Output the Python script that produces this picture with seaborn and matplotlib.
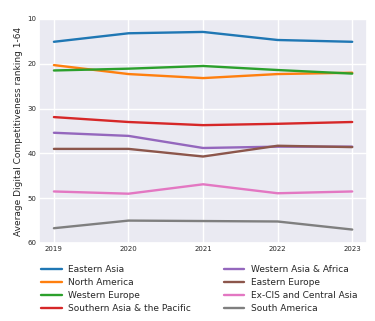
import matplotlib
matplotlib.use("Agg")
import matplotlib.pyplot as plt
import seaborn as sns
import pandas as pd

years = [2019, 2020, 2021, 2022, 2023]
regions = ["Eastern Asia", "North America", "Western Europe", "Southern Asia & the Pacific",
           "Western Asia & Africa", "Eastern Europe", "Ex-CIS and Central Asia", "South America"]
eastern_asia = [15.1, 13.2, 12.9, 14.7, 15.1]
north_america = [20.3, 22.3, 23.2, 22.3, 22.0]
western_europe = [21.5, 21.1, 20.5, 21.4, 22.2]
southern_asia_pacific = [31.9, 33.0, 33.7, 33.4, 33.0]
western_asia_africa = [35.4, 36.1, 38.8, 38.5, 38.5]
eastern_europe = [39.0, 39.0, 40.7, 38.3, 38.6]
ex_cis_central_asia = [48.5, 49.0, 46.9, 48.9, 48.5]
south_america = [56.7, 55.0, 55.1, 55.2, 57.0]

series = [eastern_asia, north_america, western_europe, southern_asia_pacific,
          western_asia_africa, eastern_europe, ex_cis_central_asia, south_america]

rows = []
for name, vals in zip(regions, series):
    for y, v in zip(years, vals):
        rows.append({"Year": y, "Region": name, "Rank": v})
df = pd.DataFrame(rows)

sns.set_theme(style="darkgrid")
plt.rcParams['font.family'] = ['DejaVu Sans']

fig = plt.figure(figsize=(3.75, 3.21), dpi=100)
ax = fig.add_axes([0.104, 0.243, 0.875, 0.698])

sns.lineplot(data=df, x="Year", y="Rank", hue="Region", hue_order=regions,
             palette="tab10", linewidth=1.7, ax=ax, legend=True)

ax.set_ylim(60, 10)
ax.set_yticks([10, 20, 30, 40, 50, 60])
ax.set_xticks(years)
ax.set_xticklabels([str(y) for y in years])
ax.set_xlim(2018.8, 2023.2)
ax.tick_params(axis="both", labelsize=5, pad=2, length=0)
ax.set_xlabel("")
ax.set_ylabel("Average Digital Competitiveness ranking 1-64", fontsize=6.5, labelpad=3)

handles, labels = ax.get_legend_handles_labels()
ax.legend_.remove()
fig.legend(handles, labels, loc="upper left", bbox_to_anchor=(0.1, 0.185), ncol=2,
           frameon=False, fontsize=6.5, handlelength=2.3, handletextpad=0.7,
           columnspacing=3.6, labelspacing=0.45, borderaxespad=0)

fig.savefig("out.png", dpi=100)
